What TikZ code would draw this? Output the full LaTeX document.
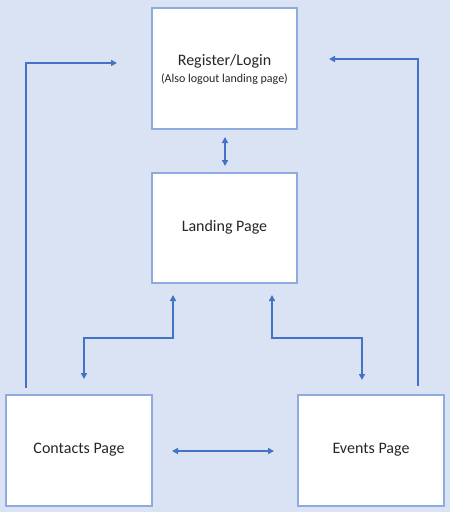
\documentclass[tikz,border=0pt]{standalone}
\usepackage{fontspec}
\setmainfont{Carlito}
\usetikzlibrary{arrows.meta}
\definecolor{bg}{HTML}{DAE3F3}
\definecolor{edge}{HTML}{8FAADC}
\definecolor{conn}{HTML}{4472C4}
\definecolor{txt}{HTML}{262626}
\begin{document}
\begin{tikzpicture}[x=1pt,y=-1pt,
  pagebox/.style={draw=edge,line width=1.5pt,fill=white},
  conline/.style={draw=conn,line width=2pt,-{Triangle[length=6pt,width=6pt]}},
  dbl/.style={draw=conn,line width=2pt,{Triangle[length=6pt,width=6pt]}-{Triangle[length=6pt,width=6pt]}},
  lbl/.style={text=txt,font=\fontsize{16}{18}\selectfont,align=center}]
\fill[bg] (0,0) rectangle (450,512);
\useasboundingbox (0,0) rectangle (450,512);
\draw[pagebox] (152,8) rectangle (297,129);
\draw[pagebox] (152,173) rectangle (297,283);
\draw[pagebox] (6,395) rectangle (152,506);
\draw[pagebox] (298,395) rectangle (444,506);
\node[lbl] (reg) at (224.5,61) {Register/Login};
\node[text=txt,font=\fontsize{12}{13}\selectfont] (regsub) at (224.5,79) {(Also logout landing page)};
\node[lbl] (land) at (224.5,227) {Landing Page};
\node[lbl] (cont) at (79,450) {Contacts Page};
\node[lbl] (evt) at (371,450) {Events Page};
\coordinate (r1) at (225,137);
\coordinate (r2) at (225,166);
\draw[dbl] (r1) -- (r2);
\coordinate (ls) at (26,388);
\coordinate (le) at (117,63);
\draw[conline] (ls) |- (le);
\coordinate (rs) at (418,386);
\coordinate (re) at (329,59);
\draw[conline] (rs) |- (re);
\coordinate (a1) at (84,379);
\coordinate (a2) at (173,295);
\draw[dbl] (a1) -- (84,338) -- (173,338) -- (a2);
\coordinate (b1) at (272,295);
\coordinate (b2) at (362,380);
\draw[dbl] (b1) -- (272,338) -- (362,338) -- (b2);
\coordinate (h1) at (172,451);
\coordinate (h2) at (274,451);
\draw[dbl] (h1) -- (h2);
\end{tikzpicture}
\end{document}
